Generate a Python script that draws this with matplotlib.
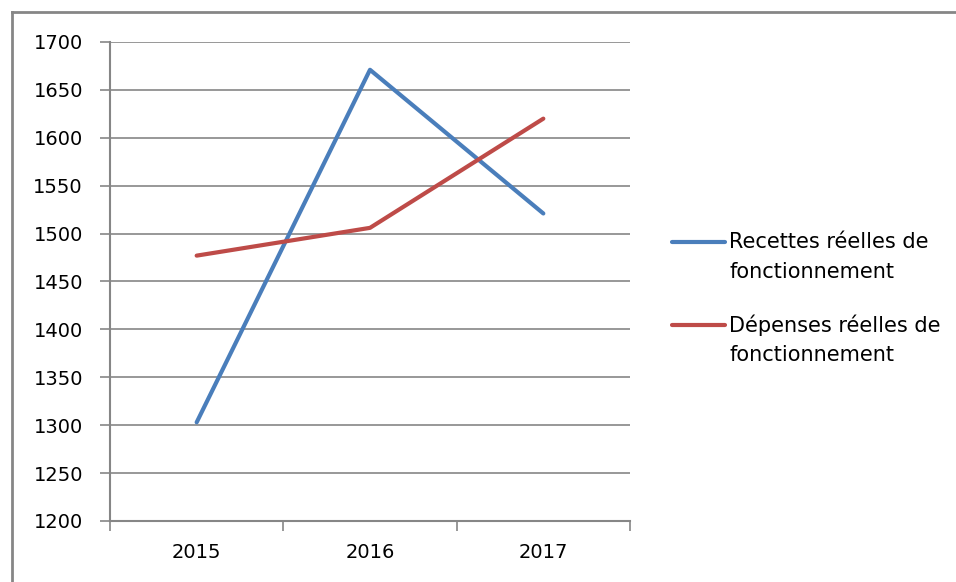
import matplotlib.pyplot as plt
from matplotlib.lines import Line2D
from matplotlib.ticker import FixedLocator

annees = ['2015', '2016', '2017']
recettes = [1303, 1671, 1521]
depenses = [1477, 1506, 1620]
noms = [('Recettes réelles de', 'fonctionnement'), ('Dépenses réelles de', 'fonctionnement')]
couleurs = ['#4A7EBB', '#BE4B48']
gris = '#868686'

plt.rcParams['font.family'] = ['DejaVu Sans']

fig = plt.figure(figsize=(9.56, 5.82), dpi=100)
ax = fig.add_axes([110/956, 1-521/582, 520/956, 479/582])

x = list(range(len(annees)))
ax.plot(x, recettes, color=couleurs[0], lw=3, solid_capstyle='round')
ax.plot(x, depenses, color=couleurs[1], lw=3, solid_capstyle='round')

ax.set_ylim(1200, 1700)
ax.set_yticks(range(1200, 1701, 50))
ax.set_xlim(-0.5, len(annees) - 0.5)
ax.xaxis.set_major_locator(FixedLocator([i - 0.5 for i in range(len(annees) + 1)]))
ax.xaxis.set_minor_locator(FixedLocator(x))
ax.set_xticklabels([], minor=False)
ax.set_xticklabels(annees, minor=True)
ax.tick_params(axis='x', which='major', length=7.5, width=1.2, color=gris, direction='out')
ax.tick_params(axis='x', which='minor', length=0, pad=16, labelsize=14)
ax.tick_params(axis='y', length=7, width=1.2, color=gris, labelsize=14, pad=12.5)

ax.grid(axis='y', color=gris, lw=1.2)
ax.set_axisbelow(True)
for s in ['top', 'right']:
    ax.spines[s].set_visible(False)
ax.spines['left'].set_color(gris)
ax.spines['left'].set_linewidth(1.5)
ax.spines['bottom'].set_color(gris)
ax.spines['bottom'].set_linewidth(1.5)

# légende à droite, trait aligné sur la première ligne
for i, (nom, couleur) in enumerate(zip(noms, couleurs)):
    y0 = 1 - (242 + i * 83) / 582
    fig.add_artist(Line2D([672/956, 725/956], [y0, y0], color=couleur, lw=3, solid_capstyle='round'))
    fig.text(729/956, y0, nom[0], fontsize=15, va='center', ha='left')
    fig.text(729/956, y0 - 30/582, nom[1], fontsize=15, va='center', ha='left')

# cadre du graphique (haut et gauche)
fig.add_artist(Line2D([12/956, 12/956], [0, 1-12/582], color=gris, lw=2))
fig.add_artist(Line2D([12/956, 1], [1-12/582, 1-12/582], color=gris, lw=2))

fig.savefig('out.png', dpi=100)
